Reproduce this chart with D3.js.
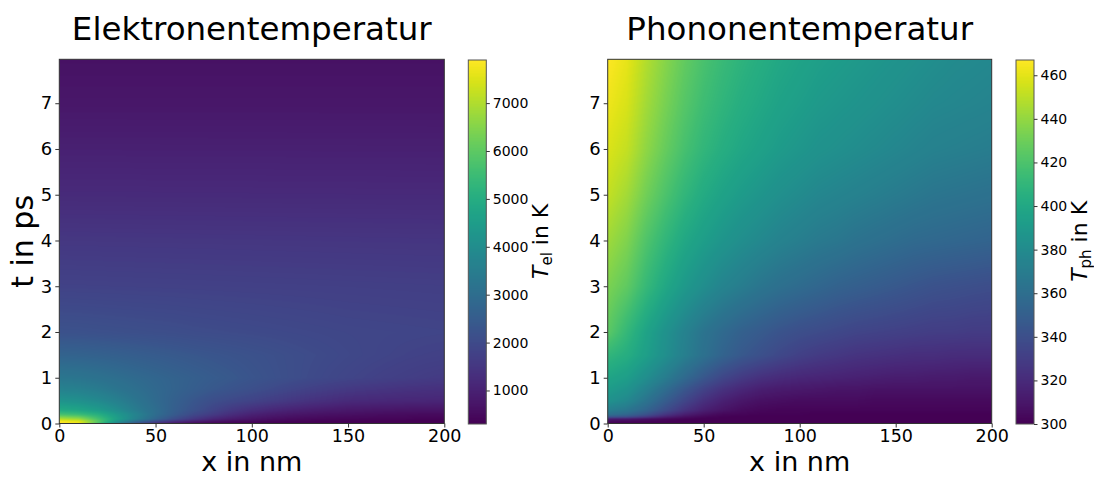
<!DOCTYPE html>
<html><head><meta charset="utf-8">
<script src="https://cdn.jsdelivr.net/npm/d3@7"></script>
<style>html,body{margin:0;padding:0;background:#fff;}svg{display:block;font-family:"DejaVu Sans",sans-serif;}</style>
</head><body><div id="chart"></div>
<script>
// ---- data ----
const xPositions = [0,10,20,30,40,50,60,70,80,90,100,110,120,130,140,150,160,170,180,190,200]; // nm
const tElRows = [0,0.05,0.1,0.2,0.3,0.5,0.75,1,1.5,2,3,4,5,6,7,8]; // ps
const tElValues = [
 [7900,7700,5600,3600,2100,1200,700,450,350,320,300,300,300,300,300,300,300,300,300,300,300],
 [7900,7600,6000,4200,2900,1950,1300,900,650,500,450,400,370,340,330,320,310,310,310,310,310],
 [7100,6800,5700,4600,3600,2750,2050,1500,1100,850,700,600,520,470,440,420,410,400,390,380,380],
 [5700,5500,5100,4400,3700,3000,2450,1950,1600,1250,1000,850,750,680,630,600,570,540,520,510,500],
 [4900,4750,4450,4000,3450,3000,2550,2200,1850,1550,1320,1150,1030,930,860,800,770,740,720,710,700],
 [4200,4100,3900,3600,3250,2900,2600,2330,2100,1950,1820,1670,1530,1400,1300,1200,1170,1140,1120,1110,1100],
 [3650,3600,3450,3250,3050,2850,2680,2520,2370,2250,2130,2000,1870,1750,1650,1560,1500,1450,1400,1370,1350],
 [3300,3250,3150,3030,2900,2780,2670,2570,2470,2380,2280,2190,2100,2010,1930,1860,1800,1740,1690,1640,1600],
 [2700,2680,2640,2590,2530,2470,2410,2350,2300,2250,2200,2150,2090,2040,1990,1940,1890,1850,1810,1780,1760],
 [2200,2190,2170,2150,2130,2110,2090,2060,2040,2020,2000,1980,1960,1940,1920,1900,1890,1880,1870,1860,1850],
 [1800,1795,1790,1785,1780,1775,1770,1765,1760,1755,1750,1745,1740,1735,1730,1725,1720,1715,1710,1705,1700],
 [1520,1518,1515,1512,1510,1507,1505,1502,1500,1497,1495,1492,1490,1487,1485,1482,1480,1477,1475,1472,1470],
 [1210,1209,1208,1207,1206,1205,1204,1203,1202,1201,1200,1199,1198,1197,1196,1195,1194,1193,1192,1191,1190],
 [980,980,979,979,978,978,977,977,976,976,975,975,974,974,973,973,972,972,971,971,970],
 [760,760,760,760,760,760,760,760,760,760,760,760,760,760,760,760,760,760,760,760,760],
 [640,640,640,640,640,640,640,640,640,640,640,640,640,640,640,640,640,640,640,640,640]
];
const tPhRows = [0,0.05,0.1,0.15,0.2,0.3,0.5,0.75,1,1.5,2,3,4,5,6,7,8]; // ps
const tPhValues = [
 [300,300,300,300,300,300,300,300,300,300,300,300,300,300,300,300,300,300,300,300,300],
 [304,303,302,301,300,300,300,300,300,300,300,300,300,300,300,300,300,300,300,300,300],
 [312,310,306,303,301,300,300,300,300,300,300,300,300,300,300,300,300,300,300,300,300],
 [345,340,328,315,307,303,301,300,300,300,300,300,300,300,300,300,300,300,300,300,300],
 [362,355,342,326,314,307,303,302,301,301,301,300,300,300,300,300,300,300,300,300,300],
 [372,366,354,339,325,315,309,305,303,302,302,302,302,302,302,302,302,302,302,302,302],
 [385,378,364,349,335,323,315,310,307,306,305,305,305,305,304,304,304,304,304,304,304],
 [392,386,373,359,345,333,324,318,314,312,311,310,309,309,308,308,308,308,308,308,308],
 [398,393,382,370,357,345,335,328,323,320,318,317,316,315,314,313,313,312,312,311,311],
 [410,404,394,383,372,362,353,346,341,336,332,329,327,325,324,323,322,322,321,321,321],
 [425,411,397,385,374,364,357,351,347,343,340,338,336,334,333,332,331,330,330,329,329],
 [434,426,412,400,390,382,375,370,365,361,358,355,352,350,348,346,344,342,341,340,339],
 [443,435,421,410,400,393,387,382,378,374,371,368,366,363,361,359,357,356,355,354,353],
 [452,444,431,420,410,402,396,391,387,383,380,377,375,373,371,369,367,365,364,363,362],
 [458,452,439,428,418,410,404,399,395,391,388,385,383,381,379,377,375,373,372,371,370],
 [463,457,444,433,423,415,409,404,400,396,393,390,388,386,384,382,380,378,377,376,375],
 [467,461,448,437,427,419,413,408,404,400,397,394,392,390,388,386,384,382,380,379,378]
];
const xTicks = [0,50,100,150,200];
const tTicks = [0,1,2,3,4,5,6,7];
const elColorTicks = [1000,2000,3000,4000,5000,6000,7000];
const phColorTicks = [300,320,340,360,380,400,420,440,460];
const titles = ["Elektronentemperatur","Phononentemperatur"];
const xLabel = "x in nm";
const tLabel = "t in ps";
const elRange = [300, 7900];
const phRange = [300, 467];

// ---- layout ----
const W = 1094, H = 477;
const plotTop = 59.3, plotBottom = 423.5;
const tMax = 7.96;
const svg = d3.select("#chart").append("svg").attr("width", W).attr("height", H);

const panels = [
  {left:59.3, right:444.3, ts:tElRows, vals:tElValues, dom:elRange, cbL:468.3, cbR:486.3, cTicks:elColorTicks, sub:"el", labX:548, title:titles[0]},
  {left:607.7, right:991.7, ts:tPhRows, vals:tPhValues, dom:phRange, cbL:1016, cbR:1034, cTicks:phColorTicks, sub:"ph", labX:1087, title:titles[1]}
];

function sample(ts, vals, x, t) {
  let i = d3.bisectRight(xPositions, x) - 1; i = Math.max(0, Math.min(xPositions.length - 2, i));
  let j = d3.bisectRight(ts, t) - 1; j = Math.max(0, Math.min(ts.length - 2, j));
  const fx = Math.max(0, Math.min(1, (x - xPositions[i]) / (xPositions[i+1] - xPositions[i])));
  const ft = Math.max(0, Math.min(1, (t - ts[j]) / (ts[j+1] - ts[j])));
  const a = vals[j][i], b = vals[j][i+1], c = vals[j+1][i], d = vals[j+1][i+1];
  return (a*(1-fx) + b*fx)*(1-ft) + (c*(1-fx) + d*fx)*ft;
}

function canvasImage(w, h, fn) {
  const cv = document.createElement("canvas"); cv.width = w; cv.height = h;
  const ctx = cv.getContext("2d");
  const img = ctx.createImageData(w, h);
  for (let py = 0; py < h; py++) for (let px = 0; px < w; px++) {
    const c = d3.rgb(fn(px, py)); const k = (py*w + px)*4;
    img.data[k] = c.r; img.data[k+1] = c.g; img.data[k+2] = c.b; img.data[k+3] = 255;
  }
  ctx.putImageData(img, 0, 0);
  return cv.toDataURL();
}

panels.forEach(p => {
  const x = d3.scaleLinear().domain([0, 200]).range([p.left, p.right]);
  const y = d3.scaleLinear().domain([0, tMax]).range([plotBottom, plotTop]);
  const color = d3.scaleSequential(d3.interpolateViridis).domain(p.dom);

  // heatmap image
  const pw = Math.round(p.right - p.left), ph = Math.round(plotBottom - plotTop);
  const href = canvasImage(pw, ph, (px, py) =>
    color(sample(p.ts, p.vals, x.invert(p.left + px + 0.5), y.invert(plotTop + py + 0.5))));
  svg.append("image").attr("x", p.left).attr("y", plotTop).attr("width", p.right - p.left).attr("height", plotBottom - plotTop)
    .attr("preserveAspectRatio", "none").attr("href", href);

  // frame
  svg.append("rect").attr("x", p.left).attr("y", plotTop).attr("width", p.right - p.left).attr("height", plotBottom - plotTop)
    .attr("fill", "none").attr("stroke", "#333").attr("stroke-width", 1);

  // axes
  const gx = svg.append("g").attr("transform", `translate(0,${plotBottom})`)
    .call(d3.axisBottom(x).tickValues(xTicks).tickSize(4).tickPadding(2).tickFormat(d3.format("d")));
  gx.select(".domain").remove();
  gx.selectAll("text").attr("font-size", 17.5).attr("fill", "#000").attr("font-family", "DejaVu Sans");
  gx.selectAll("line").attr("stroke", "#333");
  const gy = svg.append("g").attr("transform", `translate(${p.left},0)`)
    .call(d3.axisLeft(y).tickValues(tTicks).tickSize(4).tickPadding(3).tickFormat(d3.format("d")));
  gy.select(".domain").remove();
  gy.selectAll("text").attr("font-size", 18).attr("fill", "#000").attr("font-family", "DejaVu Sans");
  gy.selectAll("line").attr("stroke", "#333");

  // labels
  svg.append("text").attr("x", (p.left + p.right)/2).attr("y", 40).attr("text-anchor", "middle")
    .attr("font-size", 32.5).text(p.title);
  svg.append("text").attr("x", (p.left + p.right)/2).attr("y", 470.5).attr("text-anchor", "middle")
    .attr("font-size", 27).text(xLabel);

  // colorbar
  const cy = d3.scaleLinear().domain(p.dom).range([plotBottom + 0.5, plotTop + 0.7]);
  const cbH = Math.round(cy(p.dom[0]) - cy(p.dom[1]));
  const cbHref = canvasImage(1, cbH, (px, py) => color(cy.invert(cy(p.dom[1]) + py + 0.5)));
  svg.append("image").attr("x", p.cbL).attr("y", cy(p.dom[1])).attr("width", p.cbR - p.cbL)
    .attr("height", cy(p.dom[0]) - cy(p.dom[1])).attr("preserveAspectRatio", "none").attr("href", cbHref);
  svg.append("rect").attr("x", p.cbL).attr("y", cy(p.dom[1])).attr("width", p.cbR - p.cbL)
    .attr("height", cy(p.dom[0]) - cy(p.dom[1])).attr("fill", "none").attr("stroke", "#555").attr("stroke-width", 1);
  const ga = svg.append("g").attr("transform", `translate(${p.cbR},0)`)
    .call(d3.axisRight(cy).tickValues(p.cTicks).tickSize(3.5).tickPadding(3).tickFormat(d3.format("d")));
  ga.select(".domain").remove();
  ga.selectAll("text").attr("font-size", 14).attr("fill", "#000").attr("font-family", "DejaVu Sans");
  ga.selectAll("line").attr("stroke", "#333");

  const lab = svg.append("text").attr("transform", `translate(${p.labX},${(plotTop+plotBottom)/2}) rotate(-90)`)
    .attr("text-anchor", "middle").attr("font-size", 22);
  lab.append("tspan").attr("font-style", "italic").text("T");
  lab.append("tspan").attr("font-size", 15).attr("dy", 4).text(p.sub);
  lab.append("tspan").attr("dy", -4).text(" in K");
});

svg.append("text").attr("transform", `translate(33,${(plotTop+plotBottom)/2}) rotate(-90)`)
  .attr("text-anchor", "middle").attr("font-size", 30).text(tLabel);
</script></body></html>
